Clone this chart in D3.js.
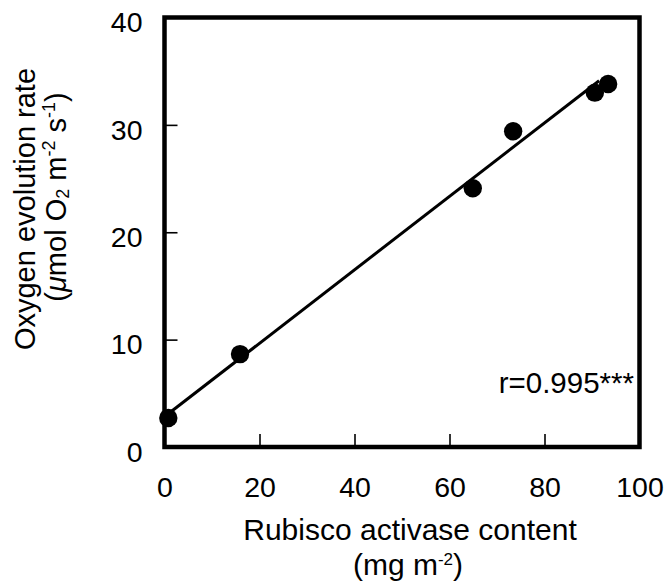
<!DOCTYPE html>
<html>
<head>
<meta charset="utf-8">
<script src="https://cdn.jsdelivr.net/npm/d3@7"></script>
<style>
  html, body { margin: 0; padding: 0; background: #fff; }
  svg { display: block; font-family: "Liberation Sans", Arial, Helvetica, sans-serif; }
</style>
</head>
<body>
<svg id="chart" width="672" height="584"></svg>
<script>
// Rubisco activase content (mg m-2) vs. oxygen evolution rate (umol O2 m-2 s-1)
const activase = [0.8, 15.9, 64.9, 73.4, 90.6, 93.4];
const oxygen   = [2.7, 8.65, 24.1, 29.4, 33.0, 33.8];

// Least-squares line: endpoints in data units
const fitX = [0.8, 91.5];
const fitIntercept = 2.82;
const fitSlope = 0.342;

const xTicks = [0, 20, 40, 60, 80, 100];
const yTicks = [0, 10, 20, 30, 40];
const rLabel = "r=0.995***";

const svg = d3.select("#chart");
const plotLeft = 164.5, plotRight = 639.5, plotTop = 17.5, plotBottom = 447;

const x = d3.scaleLinear().domain([0, 100]).range([plotLeft, plotRight]);
const y = d3.scaleLinear().domain([0, 40]).range([plotBottom, plotTop]);

const tickFont = 28.5;
const titleFont = 30;
const fontFamily = "'Liberation Sans', Arial, Helvetica, sans-serif";

// x axis, ticks pointing inward
const xAxis = svg.append("g")
  .attr("transform", `translate(0,${plotBottom})`)
  .call(d3.axisBottom(x).tickValues(xTicks).tickFormat(d3.format("d"))
    .tickSizeInner(-13).tickSizeOuter(0).tickPadding(0));
xAxis.select(".domain").remove();
xAxis.selectAll(".tick line").attr("stroke", "#000").attr("stroke-width", 1.6);
xAxis.selectAll(".tick text")
  .attr("y", 50).attr("dy", null)
  .attr("font-size", tickFont).attr("fill", "#000")
  .attr("font-family", fontFamily);

// y axis, ticks pointing inward
const yAxis = svg.append("g")
  .attr("transform", `translate(${plotLeft},0)`)
  .call(d3.axisLeft(y).tickValues(yTicks).tickFormat(d3.format("d"))
    .tickSizeInner(-13).tickSizeOuter(0).tickPadding(0));
yAxis.select(".domain").remove();
yAxis.selectAll(".tick line").attr("stroke", "#000").attr("stroke-width", 1.6);
yAxis.selectAll(".tick text")
  .attr("x", -22).attr("dy", "0.5em")
  .attr("font-size", tickFont).attr("fill", "#000")
  .attr("font-family", fontFamily);

// plot frame
svg.append("rect")
  .attr("x", plotLeft).attr("y", plotTop)
  .attr("width", plotRight - plotLeft).attr("height", plotBottom - plotTop)
  .attr("fill", "none").attr("stroke", "#000").attr("stroke-width", 4.5);

// regression line
const fitLine = fitX.map(v => [v, fitIntercept + fitSlope * v]);
svg.append("path")
  .datum(fitLine)
  .attr("d", d3.line().x(d => x(d[0])).y(d => y(d[1])))
  .attr("fill", "none").attr("stroke", "#000").attr("stroke-width", 3);

// data points
svg.append("g").selectAll("circle")
  .data(activase.map((v, i) => [v, oxygen[i]]))
  .join("circle")
  .attr("cx", d => x(d[0])).attr("cy", d => y(d[1]))
  .attr("r", 9.2).attr("fill", "#000");

// correlation label
svg.append("text")
  .attr("x", 634).attr("y", 393)
  .attr("text-anchor", "end")
  .attr("font-size", 29.5)
  .text(rLabel);

// x axis title
svg.append("text")
  .attr("x", 410).attr("y", 540)
  .attr("text-anchor", "middle")
  .attr("font-size", titleFont)
  .text("Rubisco activase content");
const xt2 = svg.append("text")
  .attr("x", 408).attr("y", 575)
  .attr("text-anchor", "middle")
  .attr("font-size", titleFont);
xt2.append("tspan").text("(mg m");
xt2.append("tspan").attr("font-size", 17).attr("dy", -10).text("-2");
xt2.append("tspan").attr("dy", 10).text(")");

// y axis title (two lines, rotated)
svg.append("text")
  .attr("transform", "translate(35,209) rotate(-90)")
  .attr("text-anchor", "middle")
  .attr("font-size", 29)
  .text("Oxygen evolution rate");
const yt2 = svg.append("text")
  .attr("transform", "translate(66,197) rotate(-90)")
  .attr("text-anchor", "middle")
  .attr("font-size", 29);
yt2.append("tspan").text("(");
yt2.append("tspan").attr("font-style", "italic").text("\u03bc");
yt2.append("tspan").text("mol O");
yt2.append("tspan").attr("font-size", 18).attr("dy", 3).text("2");
yt2.append("tspan").attr("dy", -3).text(" m");
yt2.append("tspan").attr("font-size", 18).attr("dy", -11).text("-2");
yt2.append("tspan").attr("dy", 11).text(" s");
yt2.append("tspan").attr("font-size", 18).attr("dy", -11).text("-1");
yt2.append("tspan").attr("dy", 11).text(")");
</script>
</body>
</html>
